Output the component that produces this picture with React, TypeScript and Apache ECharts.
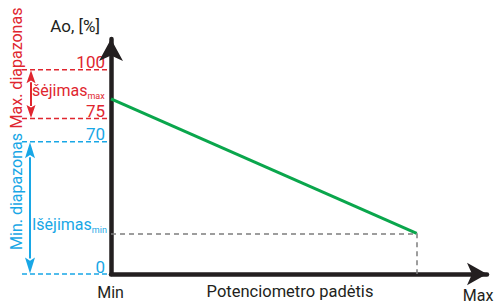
import React, { useEffect, useRef } from 'react';
import * as echarts from 'echarts';

const RED = '#e0262f';
const BLUE = '#18a7e6';
const BLACK = '#231f20';
const GREEN = '#0aa64c';
const GREY = '#7d7d7d';
const FONT = 'Roboto';

// y axis levels: printed label and its (schematic) position on the axis
const levelLabels = ['0', '70', '75', '100'];
const levelPos = [0, 64.7, 76.1, 100];
const levelColors = [BLUE, BLUE, RED, RED];

// output line: potentiometer position -> output (axis units)
const potPos = [0, 100];
const outputPos = [85.7, 19.9];

const xMax = 123;
const yMax = 115;

const xAxisName = 'Potenciometro padėtis';
const yAxisName = 'Ao, [%]';
const xMinLabel = 'Min';
const xMaxLabel = 'Max';
const maxRangeName = 'Max. diapazonas';
const minRangeName = 'Min. diapazonas';
const outLabel = 'šėjimas';
const outLabelMin = 'Išėjimas';

export default function App() {
  const ref = useRef<HTMLDivElement>(null);
  useEffect(() => {
    if (!ref.current) return;
    const chart = echarts.init(ref.current, null, { renderer: 'svg' });
    const option: any = {
      animation: false,
      grid: { left: 111, right: 9, top: 39, bottom: 30, outerBoundsMode: 'none' },
      xAxis: {
        type: 'value',
        min: 0,
        max: xMax,
        axisLine: {
          show: true,
          lineStyle: { color: BLACK, width: 4.5 },
          symbol: ['none', 'arrow'],
          symbolSize: [17, 20],
        },
        axisTick: { show: false },
        axisLabel: { show: false },
        splitLine: { show: false },
      },
      yAxis: {
        type: 'value',
        min: 0,
        max: yMax,
        axisLine: {
          show: true,
          lineStyle: { color: BLACK, width: 4.5 },
          symbol: ['none', 'arrow'],
          symbolSize: [18, 22],
        },
        axisTick: { show: false },
        splitLine: { show: false },
        axisLabel: {
          show: true,
          customValues: levelPos,
          margin: 6,
          verticalAlign: 'bottom',
          fontFamily: FONT,
          fontSize: 17,
          lineHeight: 15,
          formatter: (v: number) => {
            const i = levelPos.findIndex((p) => Math.abs(p - v) < 0.01);
            return i >= 0 ? levelLabels[i] : '';
          },
          color: (v: any, idx: number) => {
            const n = Number(v);
            const i = levelPos.findIndex((p) => Math.abs(p - n) < 0.01);
            return levelColors[i >= 0 ? i : idx] || BLACK;
          },
        },
      },
      series: [
        {
          type: 'line',
          data: potPos.map((x, i) => [x, outputPos[i]]),
          showSymbol: false,
          symbol: 'none',
          lineStyle: { color: GREEN, width: 3 },
          markLine: {
            silent: true,
            symbol: ['none', 'none'],
            label: { show: false },
            lineStyle: { color: GREY, type: [5, 4], width: 1.5 },
            data: [
              [{ coord: [0, outputPos[1]] }, { coord: [potPos[1], outputPos[1]] }],
              [{ coord: [potPos[1], outputPos[1]] }, { coord: [potPos[1], 0] }],
            ],
          },
        },
      ],
    };
    chart.setOption(option);

    const py = (v: number) => chart.convertToPixel({ yAxisIndex: 0 }, v) as number;
    const px = (v: number) => chart.convertToPixel({ xAxisIndex: 0 }, v) as number;
    const x0 = px(0);
    const g: any[] = [];
    levelPos.forEach((p, i) => {
      const y = py(p);
      g.push({
        type: 'line',
        shape: { x1: 22, y1: y, x2: x0 - 2, y2: y },
        style: { stroke: levelColors[i], lineWidth: 1.5, lineDash: [5, 3] },
      });
    });
    const dblArrow = (x: number, yTop: number, yBot: number, color: string, hw: number, hh: number) => {
      g.push({
        type: 'line',
        shape: { x1: x, y1: yTop + hh - 1, x2: x, y2: yBot - hh + 1 },
        style: { stroke: color, lineWidth: 2 },
      });
      g.push({
        type: 'polygon',
        shape: { points: [[x, yTop], [x + hw, yTop + hh], [x, yTop + hh * 0.8], [x - hw, yTop + hh]] },
        style: { fill: color },
      });
      g.push({
        type: 'polygon',
        shape: { points: [[x, yBot], [x + hw, yBot - hh], [x, yBot - hh * 0.8], [x - hw, yBot - hh]] },
        style: { fill: color },
      });
    };
    dblArrow(31, py(levelPos[3]) + 0.5, py(levelPos[2]) - 0.5, RED, 4.5, 13);
    dblArrow(30, py(levelPos[1]) + 0.5, py(levelPos[0]) - 0.5, BLUE, 5, 16);

    const richLabel = (x: number, y: number, main: string, sub: string, color: string) => ({
      type: 'text',
      x,
      y,
      style: {
        text: `{a|${main}}{b|${sub}}`,
        verticalAlign: 'middle',
        align: 'left',
        rich: {
          a: { fontFamily: FONT, fontSize: 16, fill: color, lineHeight: 20, verticalAlign: 'middle' },
          b: { fontFamily: FONT, fontSize: 9, fill: color, lineHeight: 4, verticalAlign: 'bottom' },
        },
      },
    });
    g.push(richLabel(32, 90.5, outLabel, 'max', RED));
    g.push(richLabel(32, 224.5, outLabelMin, 'min', BLUE));

    g.push({
      type: 'text',
      x: 16,
      y: 68,
      rotation: Math.PI / 2,
      style: { text: maxRangeName, fontFamily: FONT, fontSize: 16, fill: RED, align: 'center', verticalAlign: 'middle' },
    });
    g.push({
      type: 'text',
      x: 16,
      y: 191.5,
      rotation: Math.PI / 2,
      style: { text: minRangeName, fontFamily: FONT, fontSize: 16, fill: BLUE, align: 'center', verticalAlign: 'middle' },
    });
    g.push({
      type: 'text',
      x: 100,
      y: 26,
      style: { text: yAxisName, fontFamily: FONT, fontSize: 17, fill: BLACK, align: 'right', verticalAlign: 'middle' },
    });
    g.push({
      type: 'text',
      x: 110.5,
      y: 292,
      style: { text: xMinLabel, fontFamily: FONT, fontSize: 16, fill: BLACK, align: 'center', verticalAlign: 'middle' },
    });
    g.push({
      type: 'text',
      x: 478,
      y: 295,
      style: { text: xMaxLabel, fontFamily: FONT, fontSize: 16, fill: BLACK, align: 'center', verticalAlign: 'middle' },
    });
    g.push({
      type: 'text',
      x: 290,
      y: 291.5,
      style: { text: xAxisName, fontFamily: FONT, fontSize: 16.5, fill: BLACK, align: 'center', verticalAlign: 'middle' },
    });
    chart.setOption({ graphic: g });

    return () => chart.dispose();
  }, []);
  return <div ref={ref} style={{ width: 496, height: 304, position: 'absolute', left: 0, top: 0 }} />;
}
